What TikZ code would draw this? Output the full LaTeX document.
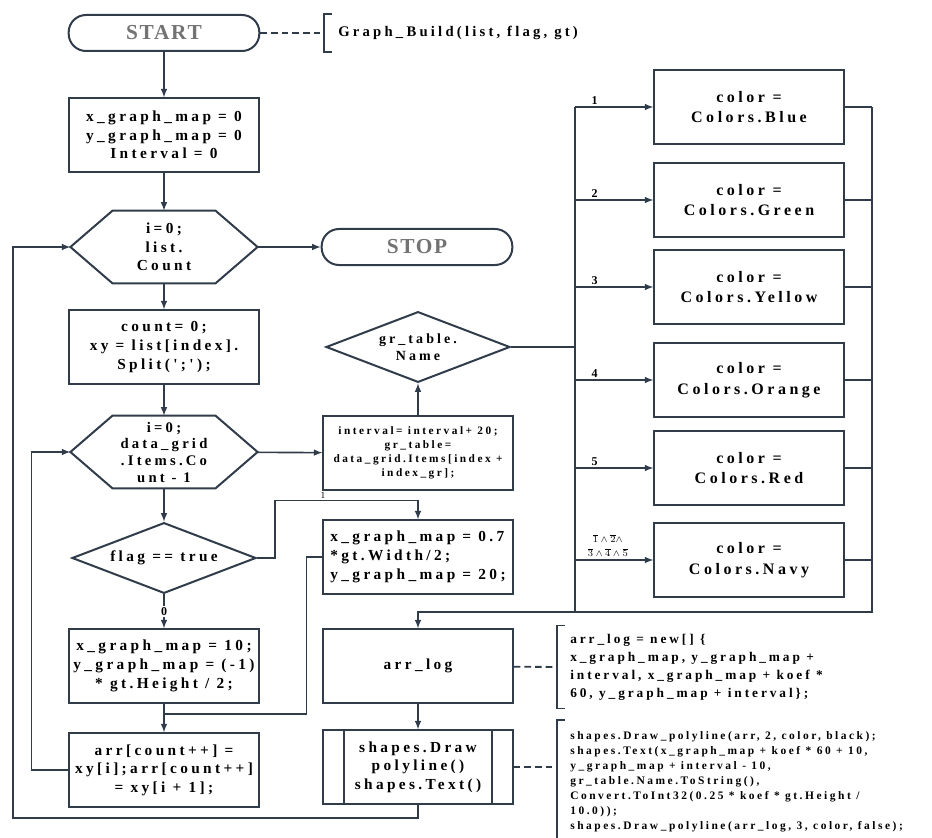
\documentclass[tikz,border=0pt]{standalone}
\usepackage{amsmath}
\usepackage{fontspec}
\setmainfont{Liberation Serif}
\usepackage{tikz}
\usetikzlibrary{arrows,calc,positioning,shapes.geometric}

\newfontfamily\chartfont{Liberation Serif}[LetterSpace=22]
\newfontfamily\termfont{Liberation Serif}[LetterSpace=8]
\definecolor{linec}{RGB}{48,60,74}
\definecolor{termgray}{RGB}{115,115,115}
\newcommand{\boxtext}{\chartfont\bfseries\fontsize{11.5}{14}\selectfont}
\newcommand{\smalltext}{\chartfont\bfseries\fontsize{8.5}{10.5}\selectfont}
\newcommand{\casetext}{\chartfont\bfseries\fontsize{12}{15.5}\selectfont}

\begin{document}
\begin{tikzpicture}[x=0.75pt,y=-0.75pt,>=latex,
    every node/.style={font=\boxtext, align=center},
    proc/.style={draw=linec, line width=1.5pt, rectangle, minimum width=142pt, minimum height=55pt, inner sep=1pt},
    term/.style={draw=linec, line width=1.5pt, rectangle, rounded corners=13pt, minimum width=143pt, minimum height=27pt, text=termgray, font=\termfont\bfseries\fontsize{16}{18}\selectfont},
    cond/.style={draw=linec, line width=1.5pt, diamond, aspect=2.6, minimum width=138pt, minimum height=53pt, inner sep=0pt},
    hex/.style={rectangle, minimum width=140pt, minimum height=54pt, inner sep=0pt},
    colbox/.style={proc, font=\casetext},
    flow/.style={->, draw=linec, line width=1.2pt},
    wire/.style={draw=linec, line width=1.2pt},
    link/.style={draw=linec, line width=1.4pt, dash pattern=on 5pt off 3pt},
    note/.style={align=left, inner sep=0pt},
    tag/.style={font=\chartfont\bfseries\fontsize{9}{10}\selectfont, inner sep=1pt}]
\useasboundingbox (0,0) rectangle (932,838);

% main loop column
\node[term] (start) at (164,33) {START};
\node[proc] (init) at (164,135) {x\_graph\_map = 0\\ y\_graph\_map = 0\\ Interval = 0};
\node[hex] (loopA) at (164,247) {i=0;\\ list.\\ Count};
\node[term] (stop) at (417,247) {STOP};
\node[proc] (split) at (164,347) {count= 0;\\ xy = list[index].\\ Split(';');};
\node[hex, font=\chartfont\bfseries\fontsize{11}{12.5}\selectfont] (loopB) at (164,452) {i=0;\\ data\_grid\\ .Items.Co\\ unt - 1};
\node[cond] (flag) at (164,558) {flag == true};
\node[proc] (setx) at (164,666) {x\_graph\_map = 10;\\ y\_graph\_map = (-1)\\ * gt.Height / 2;};
\node[proc] (arr) at (164,770) {arr[count++] =\\ xy[i];arr[count++]\\ = xy[i + 1];};

% hexagons
\foreach \h in {loopA,loopB}
  \draw[draw=linec, line width=1.5pt] (\h.west) -- ($(\h.north west)+(42,0)$) -- ($(\h.north east)+(-42,0)$)
    -- (\h.east) -- ($(\h.south east)+(-42,0)$) -- ($(\h.south west)+(42,0)$) -- cycle;

% middle column
\node[cond, font=\chartfont\bfseries\fontsize{10.5}{12.5}\selectfont] (tname) at (418,347) {gr\_table.\\ Name};
\node[proc, font=\smalltext] (inter) at (418,453) {interval= interval+ 20;\\ gr\_table=\\ data\_grid.Items[index +\\ index\_gr];};
\node[proc, align=left] (setw) at (418,557) {x\_graph\_map = 0.7\\ *gt.Width/2;\\ y\_graph\_map = 20;};
\node[proc] (arrlog) at (418,666) {arr\_log};
\node[proc] (shapes) at (418,767) {shapes.Draw\\ polyline()\\ shapes.Text()};
\draw[draw=linec, line width=1.5pt] ([xshift=16.5pt]shapes.north west) -- ([xshift=16.5pt]shapes.south west)
  ([xshift=-16.5pt]shapes.north east) -- ([xshift=-16.5pt]shapes.south east);

% colour cases
\foreach \y/\c/\n in {107/Blue/1, 200/Green/2, 287/Yellow/3, 380/Orange/4, 468/Red/5, 560/Navy/6}
  \node[colbox] (case\n) at (749,\y) {color =\\ Colors.\c};

\coordinate (busTL) at (575,107);
\coordinate (busBL) at (575,612);
\coordinate (busTR) at (872,107);
\coordinate (busBR) at (872,612);
\draw[wire] (busTL) -- (busBL) -- (busBR) -- (busTR);
\draw[wire] (tname.east) -- (tname.east -| busTL);
\foreach \n in {1,...,5} {
  \draw[flow] (case\n.west -| busTL) -- node[tag, pos=0.25, above] (lab\n) {\n} (case\n.west);
  \draw[wire] (case\n.east) -- (case\n.east -| busTR);
}
\draw[flow] (case6.west -| busTL) -- node[tag, pos=0.42, above=1pt, font=\fontsize{7.5}{10.5}\selectfont] (lab6)
  {$\overline{1}\wedge\overline{2}\wedge$\\ $\overline{3}\wedge\overline{4}\wedge\overline{5}$} (case6.west);
\draw[wire] (case6.east) -- (case6.east -| busTR);
\draw[flow] (busBL) -| (arrlog.north);

% connectors
\draw[flow] (start) -- (init);
\draw[flow] (init) -- (loopA.north);
\draw[flow] (loopA) -- (stop);
\draw[flow] (loopA) -- (split);
\draw[flow] (split) -- (loopB);
\draw[flow] (loopB) -- (inter);
\draw[flow] (loopB) -- (flag);
\draw[flow] (flag) -- node[tag, pos=0.5, fill=white] (no) {0} (setx);
\draw[flow] (flag.east) -- ++(18,0) |- ($(setw.north)+(0,-19)$) -- (setw.north);
\node[tag, font=\fontsize{7}{8}\selectfont] (yes) at (323,495) {1};
\draw[flow] (setx) -- (arr);
\draw[wire] (setw.west) -- ++(-16,0) |- ($(setx.south)!0.35!(arr.north)$);
\draw[flow] (arr.west) -- ++(-37,0) |- (loopB.west);
\draw[flow] (inter) -- (tname);
\draw[flow] (arrlog) -- (shapes);
\coordinate (outer) at (13,818);
\draw[flow] (shapes.south) |- (outer) |- (loopA.west);

% comments
\node[note, anchor=west, font=\chartfont\bfseries\fontsize{11}{12}\selectfont] (noteA) at (338,33) {Graph\_Build(list, flag, gt)};
\draw[wire] ($(noteA.north west)+(-6,-12)$) -- ++(-8,0) |- ($(noteA.south west)+(-6,12)$);
\coordinate (brkA) at ($(noteA.west)+(-14,0)$);
\draw[link] (start) -- (brkA);

\node[note, anchor=west, font=\chartfont\bfseries\fontsize{10}{13.5}\selectfont] (noteB) at (570,667)
  {arr\_log = new[] \{\\ x\_graph\_map, y\_graph\_map +\\ interval, x\_graph\_map + koef *\\ 60, y\_graph\_map + interval\};};
\draw[wire] ($(noteB.north west)+(-5,-8)$) -- ++(-8,0) |- ($(noteB.south west)+(-5,8)$);
\coordinate (brkB) at ($(noteB.west)+(-13,0)$);
\draw[link] (arrlog) -- (brkB);

\node[note, anchor=north west, font=\chartfont\bfseries\fontsize{8.6}{11.25}\selectfont] (noteC) at (570,731)
  {shapes.Draw\_polyline(arr, 2, color, black);\\ shapes.Text(x\_graph\_map + koef * 60 + 10,\\ y\_graph\_map + interval - 10,\\ gr\_table.Name.ToString(),\\ Convert.ToInt32(0.25 * koef * gt.Height /\\ 10.0));\\ shapes.Draw\_polyline(arr\_log, 3, color, false);};
\draw[wire] ($(noteC.north west)+(-5,-11)$) -- ++(-8,0) |- ($(noteC.south west)+(-5,8)$);
\coordinate (brkC) at (shapes.east -| {$(noteC.west)+(-13,0)$});
\draw[link] (shapes) -- (brkC);
\end{tikzpicture}
\end{document}
